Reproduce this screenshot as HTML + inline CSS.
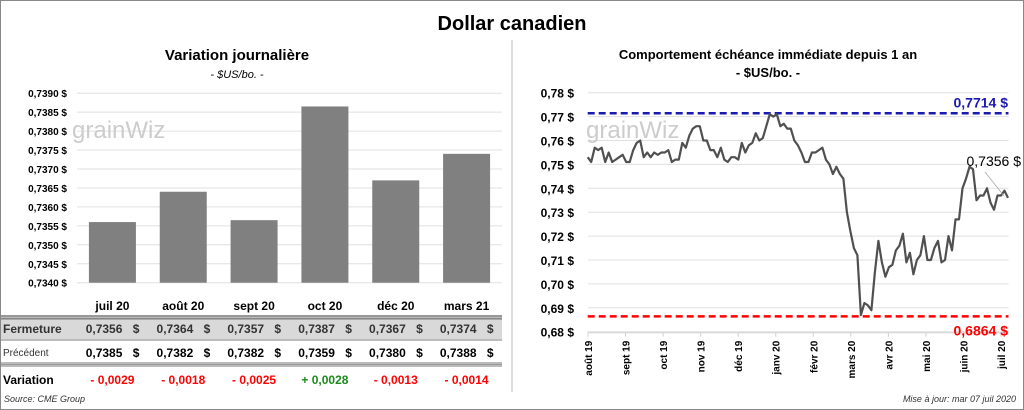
<!DOCTYPE html>
<html><head><meta charset="utf-8"><style>
body{margin:0;width:1024px;height:410px;background:#fff;font-family:"Liberation Sans",sans-serif;overflow:hidden}
#frame{position:absolute;left:0;top:0;width:1022px;height:408px;border:1px solid #888}
svg{position:absolute;left:0;top:0}
</style></head><body>
<div id="frame"></div>
<svg width="1024" height="410" id="s">
<text x="512" y="30" text-anchor="middle" font-size="20" font-weight="bold">Dollar canadien</text>
<text x="237" y="60" text-anchor="middle" font-size="15" font-weight="bold">Variation  journalière</text>
<text x="237" y="78" text-anchor="middle" font-size="11" font-style="italic">- $US/bo. -</text>
<text x="768" y="59" text-anchor="middle" font-size="13" font-weight="bold">Comportement échéance immédiate depuis 1 an</text>
<text x="768" y="77" text-anchor="middle" font-size="13" font-weight="bold">- $US/bo. -</text>
<line x1="512" y1="40" x2="512" y2="392" stroke="#bbb"/>
<g id="left"></g>
<g id="table"></g>
<g id="right"></g>
<text x="4" y="402" font-size="9" font-style="italic" fill="#333">Source: CME Group</text>
<text x="1016" y="402" text-anchor="end" font-size="9" font-style="italic" fill="#333">Mise à jour: mar 07 juil 2020</text>
</svg>
<script>
const NS="http://www.w3.org/2000/svg";
function mk(p,t,a,txt){const e=document.createElementNS(NS,t);for(const k in a)e.setAttribute(k,a[k]);if(txt!==undefined)e.textContent=txt;p.appendChild(e);return e;}
// ---- bar chart data
const barCats=["juil 20","août 20","sept 20","oct 20","déc 20","mars 21"];
const closeVals=[0.7356,0.7364,0.73565,0.73865,0.7367,0.7374];
const closeLabels=["0,7356","0,7364","0,7357","0,7387","0,7367","0,7374"];
const prevLabels=["0,7385","0,7382","0,7382","0,7359","0,7380","0,7388"];
const varLabels=["- 0,0029","- 0,0018","- 0,0025","+ 0,0028","- 0,0013","- 0,0014"];
const barTicks=["0,7340","0,7345","0,7350","0,7355","0,7360","0,7365","0,7370","0,7375","0,7380","0,7385","0,7390"];
const barTickVals=[0.734,0.7345,0.735,0.7355,0.736,0.7365,0.737,0.7375,0.738,0.7385,0.739];
// ---- line chart data
const lineMonths=["août 19","sept 19","oct 19","nov 19","déc 19","janv 20","févr 20","mars 20","avr 20","mai 20","juin 20","juil 20"];
const lineTicks=["0,68","0,69","0,70","0,71","0,72","0,73","0,74","0,75","0,76","0,77","0,78"];
const lineTickVals=[0.68,0.69,0.70,0.71,0.72,0.73,0.74,0.75,0.76,0.77,0.78];
const lineVals=[0.753,0.751,0.757,0.756,0.757,0.751,0.755,0.751,0.752,0.753,0.754,0.751,0.751,0.756,0.759,0.760,0.753,0.755,0.753,0.755,0.754,0.755,0.755,0.756,0.751,0.752,0.752,0.759,0.757,0.762,0.765,0.766,0.766,0.760,0.760,0.756,0.756,0.753,0.757,0.752,0.751,0.753,0.753,0.752,0.759,0.755,0.758,0.759,0.763,0.760,0.761,0.766,0.771,0.770,0.771,0.766,0.767,0.765,0.765,0.760,0.758,0.755,0.751,0.751,0.755,0.755,0.756,0.757,0.752,0.750,0.746,0.749,0.746,0.744,0.730,0.722,0.715,0.712,0.687,0.692,0.691,0.689,0.705,0.718,0.709,0.703,0.707,0.708,0.714,0.716,0.721,0.709,0.713,0.704,0.710,0.712,0.720,0.710,0.710,0.715,0.718,0.709,0.710,0.720,0.714,0.727,0.727,0.740,0.744,0.749,0.748,0.735,0.737,0.737,0.740,0.734,0.731,0.737,0.737,0.739,0.736];
const highVal=0.7714, lowVal=0.6864, lastLabel="0,7356 $";

// ---- bar chart
const L=document.getElementById('left');
const bx0=77,bx1=502,by=v=>282.7-(v-0.734)*37900;
const slot=(bx1-bx0)/barCats.length;
barTickVals.forEach((v,i)=>{
 const g=mk(L,'line',{x1:bx0,x2:bx1,y1:by(v),y2:by(v),stroke:'#e0e0e0'});
 
 const t=mk(L,'text',{x:67,y:by(v)+4,'text-anchor':'end','font-size':10,'font-weight':'bold'},barTicks[i]+' $');
 
});
mk(L,'text',{x:72,y:138,'font-size':24,fill:'#ccc'},'grainWiz');
closeVals.forEach((v,i)=>{
 const cx=bx0+slot*(i+0.5);
 const r=mk(L,'rect',{x:cx-23.5,y:by(v),width:47,height:by(0.734)-by(v),fill:'#808080'});
 
});
// ---- table
const T=document.getElementById('table');
mk(T,'rect',{x:1,y:317,width:501,height:22,fill:'#d9d9d9'});
[[316,1.5],[319,1],[340,1],[363,1],[366,1]].forEach(([y,w])=>mk(T,'line',{x1:1,x2:502,y1:y,y2:y,stroke:'#777','stroke-width':w}));
mk(T,'line',{x1:1,x2:502,y1:318,y2:318,stroke:'#999'});
mk(T,'line',{x1:1,x2:502,y1:364.5,y2:364.5,stroke:'#999'});
mk(T,'text',{x:3,y:333,'font-size':12,'font-weight':'bold',fill:'#333'},'Fermeture');
mk(T,'text',{x:3,y:356,'font-size':10,fill:'#333'},'Précédent');
mk(T,'text',{x:3,y:384,'font-size':12,'font-weight':'bold'},'Variation');
barCats.forEach((c,i)=>{
 const cx=bx0+slot*(i+0.5);
 const h=mk(T,'text',{x:cx,y:310,'text-anchor':'middle','font-size':12,'font-weight':'bold'},c);
 
 const a=mk(T,'text',{x:cx+10,y:333,'text-anchor':'end','font-size':12,'font-weight':'bold',fill:'#333'},closeLabels[i]);
 
 mk(T,'text',{x:cx+27,y:333,'text-anchor':'end','font-size':12,'font-weight':'bold',fill:'#333'},'$');
 const b=mk(T,'text',{x:cx+10,y:357,'text-anchor':'end','font-size':12,'font-weight':'bold'},prevLabels[i]);
 
 mk(T,'text',{x:cx+27,y:357,'text-anchor':'end','font-size':12,'font-weight':'bold'},'$');
 const d=mk(T,'text',{x:cx,y:384,'text-anchor':'middle','font-size':12,'font-weight':'bold',fill:varLabels[i][0]=='+'?'#1a8a1a':'#f00'},varLabels[i]);
 
});
// ---- line chart
const R=document.getElementById('right');
const lx0=587.7,lx1=1008.5,ly=v=>92.7-(v-0.78)*2390;
const mw=(1001-588)/11;
lineTickVals.forEach((v,i)=>{
 const g=mk(R,'line',{x1:lx0,x2:lx1,y1:ly(v),y2:ly(v),stroke:'#e0e0e0'});
 
 const t=mk(R,'text',{x:574,y:ly(v)+5,'text-anchor':'end','font-size':12,'font-weight':'bold'},lineTicks[i]+' $');
 
});
mk(R,'text',{x:586,y:138,'font-size':24,fill:'#ccc'},'grainWiz');
mk(R,'line',{x1:lx0,x2:lx1,y1:ly(0.68)+1,y2:ly(0.68)+1,stroke:'#d0d0d0'});
lineMonths.forEach((m,i)=>{
 const x=588+mw*i;
 mk(R,'line',{x1:x,x2:x,y1:ly(0.68)+1,y2:ly(0.68)+5,stroke:'#d0d0d0'});
 const t=mk(R,'text',{x:0,y:0,'text-anchor':'end','font-size':10,'font-weight':'bold',transform:`translate(${x+4},${ly(0.68)+9}) rotate(-90)`},m);
 
});
const hl=mk(R,'line',{x1:lx0,x2:lx1,y1:ly(highVal),y2:ly(highVal),stroke:'#1a1ab0','stroke-width':2.5,'stroke-dasharray':'7,4'});

mk(R,'text',{x:1008,y:ly(highVal)-6,'text-anchor':'end','font-size':14,'font-weight':'bold',fill:'#1a1ab0'},'0,7714 $');
const ll=mk(R,'line',{x1:lx0,x2:lx1,y1:ly(lowVal),y2:ly(lowVal),stroke:'#f00','stroke-width':2.5,'stroke-dasharray':'7,4'});

mk(R,'text',{x:1008,y:ly(lowVal)+19,'text-anchor':'end','font-size':14,'font-weight':'bold',fill:'#f00'},'0,6864 $');
const n=lineVals.length;
const pts=lineVals.map((v,i)=>(lx0+(1008-lx0)*i/(n-1)).toFixed(1)+','+ly(v).toFixed(1)).join(' ');
const pl=mk(R,'polyline',{points:pts,fill:'none',stroke:'#505050','stroke-width':2.2,'stroke-linejoin':'round'});

mk(R,'line',{x1:985,y1:172,x2:1004,y2:ly(lineVals[n-1])-2,stroke:'#aaa','stroke-width':0.8});
const lt=mk(R,'text',{x:1021,y:166,'text-anchor':'end','font-size':14},lastLabel);

</script>
</body></html>
